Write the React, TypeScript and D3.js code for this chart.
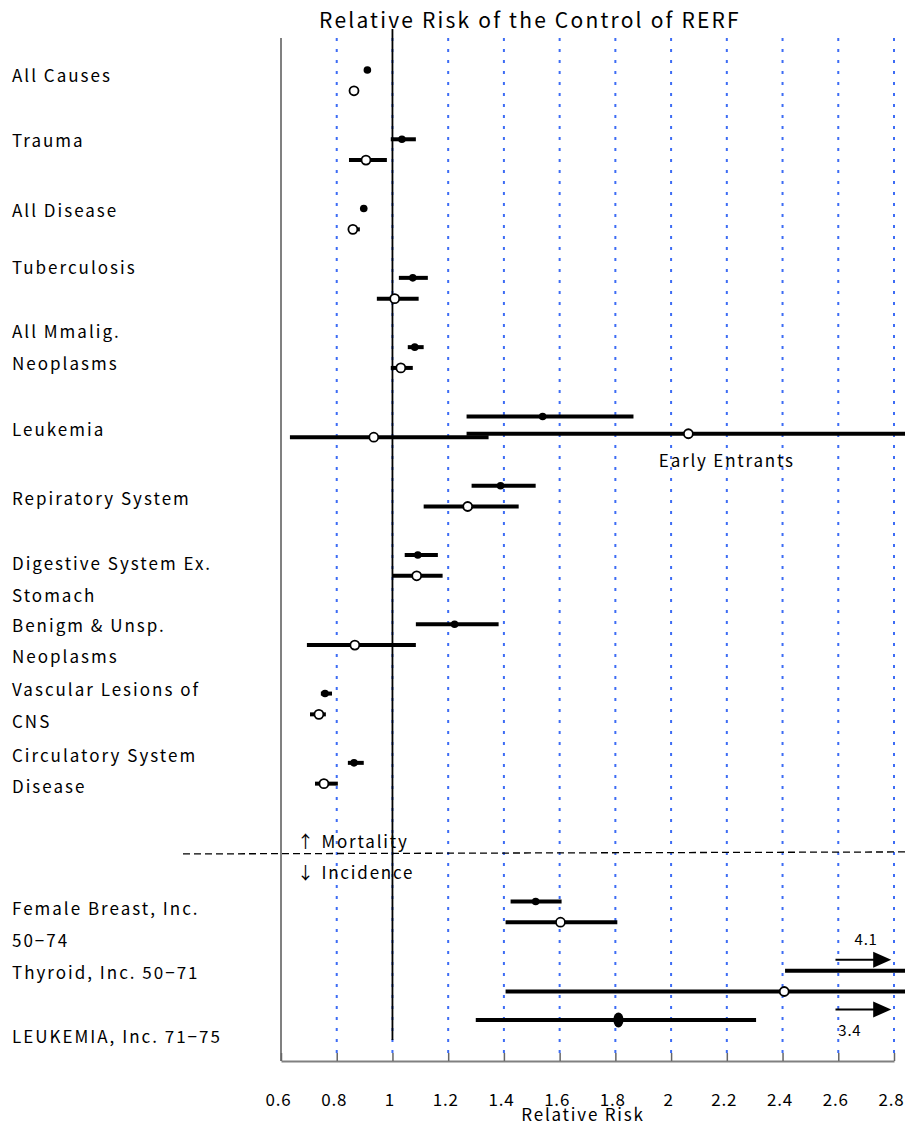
import React, { useEffect, useRef } from 'react'
import * as d3 from 'd3'

interface RiskPoint {
  row: number
  est: number
  lo: number
  hi: number
}

// category labels (left column), one entry per category, wrapped lines
const categoryLabels = [
  ['All Causes'],
  ['Trauma'],
  ['All Disease'],
  ['Tuberculosis'],
  ['All Mmalig.', 'Neoplasms'],
  ['Leukemia'],
  ['Repiratory System'],
  ['Digestive System Ex.', 'Stomach'],
  ['Benigm & Unsp.', 'Neoplasms'],
  ['Vascular Lesions of', 'CNS'],
  ['Circulatory System', 'Disease'],
  ['Female Breast, Inc.', '50−74'],
  ['Thyroid, Inc. 50−71'],
  ['LEUKEMIA, Inc. 71−75'],
]
// where each label block sits, in row units
const labelRows = [0.09, 1.02, 2.03, 2.86, 4.01, 5.19, 6.19, 7.36, 8.25, 9.18, 10.12, 12.34, 13.03, 13.95]

// filled dots
const filledSeries: RiskPoint[] = [
  { row: 0, est: 0.91, lo: 0.9, hi: 0.92 },
  { row: 1, est: 1.034, lo: 0.994, hi: 1.084 },
  { row: 2, est: 0.897, lo: 0.89, hi: 0.905 },
  { row: 3, est: 1.073, lo: 1.023, hi: 1.127 },
  { row: 4, est: 1.08, lo: 1.055, hi: 1.112 },
  { row: 5, est: 1.539, lo: 1.266, hi: 1.865 },
  { row: 6, est: 1.388, lo: 1.284, hi: 1.514 },
  { row: 7, est: 1.091, lo: 1.044, hi: 1.163 },
  { row: 8, est: 1.223, lo: 1.084, hi: 1.381 },
  { row: 9, est: 0.758, lo: 0.743, hi: 0.783 },
  { row: 10, est: 0.862, lo: 0.84, hi: 0.897 },
  { row: 12, est: 1.514, lo: 1.424, hi: 1.607 },
  { row: 13, est: 4.1, lo: 2.409, hi: 5.0 },
]

// open circles
const openSeries: RiskPoint[] = [
  { row: 0, est: 0.862, lo: 0.85, hi: 0.875 },
  { row: 1, est: 0.905, lo: 0.844, hi: 0.98 },
  { row: 2, est: 0.858, lo: 0.85, hi: 0.883 },
  { row: 3, est: 1.008, lo: 0.944, hi: 1.094 },
  { row: 4, est: 1.03, lo: 0.994, hi: 1.073 },
  { row: 5, est: 0.933, lo: 0.632, hi: 1.345 },
  { row: 6, est: 1.27, lo: 1.112, hi: 1.453 },
  { row: 7, est: 1.087, lo: 1.001, hi: 1.18 },
  { row: 8, est: 0.865, lo: 0.693, hi: 1.084 },
  { row: 9, est: 0.736, lo: 0.704, hi: 0.761 },
  { row: 10, est: 0.754, lo: 0.722, hi: 0.804 },
  { row: 12, est: 1.603, lo: 1.406, hi: 1.807 },
  { row: 13, est: 2.406, lo: 1.406, hi: 5.0 },
]

const earlyEntrants: RiskPoint[] = [{ row: 5.25, est: 2.062, lo: 1.266, hi: 3.5 }]
const leukemiaIncidence: RiskPoint[] = [{ row: 13.71, est: 1.811, lo: 1.299, hi: 2.305 }]

// off-scale estimates shown with arrows
const offScale = [
  { label: '4.1', row: 12.84 },
  { label: '3.4', row: 13.56 },
]

const xTicks = [0.6, 0.8, 1, 1.2, 1.4, 1.6, 1.8, 2, 2.2, 2.4, 2.6, 2.8]
const dividerRow = 11.3

const FONT = '"Noto Sans CJK JP", "Noto Sans", sans-serif'

export default function App() {
  const svgRef = useRef<SVGSVGElement>(null)

  useEffect(() => {
    if (!svgRef.current) return
    const svg = d3.select(svgRef.current)
    svg.selectAll('*').remove()

    const width = 905
    const plotTop = 38
    const plotBottom = 1061

    const x = d3.scaleLinear().domain([0.6, 2.8]).range([281, 894])
    const y = d3.scaleLinear().domain([0, 14]).range([70, 1040])
    const openShift = 0.3

    // title
    svg
      .append('text')
      .attr('x', 530)
      .attr('y', 28)
      .attr('text-anchor', 'middle')
      .attr('font-family', FONT)
      .attr('font-size', 21)
      .attr('letter-spacing', 2.2)
      .attr('fill', '#000')
      .text('Relative Risk of the Control of RERF')

    // blue dotted gridlines
    svg
      .append('g')
      .selectAll('line')
      .data(xTicks.slice(1))
      .join('line')
      .attr('x1', (d) => x(d))
      .attr('x2', (d) => x(d))
      .attr('y1', plotTop)
      .attr('y2', plotBottom - 8)
      .attr('stroke', '#3d6cf5')
      .attr('stroke-width', 2)
      .attr('stroke-dasharray', '3,8')

    // reference line at RR = 1
    svg
      .append('line')
      .attr('x1', x(1))
      .attr('x2', x(1))
      .attr('y1', 29)
      .attr('y2', 1040)
      .attr('stroke', '#000')
      .attr('stroke-width', 1.8)

    // axes frame
    svg
      .append('line')
      .attr('x1', x(0.6))
      .attr('x2', x(0.6))
      .attr('y1', plotTop)
      .attr('y2', plotBottom)
      .attr('stroke', '#808080')
      .attr('stroke-width', 2)

    const xAxis = svg.append('g').attr('transform', `translate(0,${plotBottom})`)
    xAxis
      .call(d3.axisBottom(x).tickValues(xTicks).tickSize(-8).tickSizeOuter(0).tickFormat((d) => `${d}`))
      .selectAll('text')
      .attr('y', 33)
      .attr('dx', -3)
      .attr('font-family', FONT)
      .attr('font-size', 17)
      .attr('letter-spacing', 0.8)
      .attr('fill', '#000')
    xAxis.select('.domain').attr('stroke', '#808080').attr('stroke-width', 2)
    xAxis.selectAll('.tick line').attr('stroke', '#666').attr('stroke-width', 1.5)

    svg
      .append('text')
      .attr('x', 583)
      .attr('y', 1121)
      .attr('text-anchor', 'middle')
      .attr('font-family', FONT)
      .attr('font-size', 17)
      .attr('letter-spacing', 1.8)
      .attr('fill', '#000')
      .text('Relative Risk')

    // category labels
    const labels = svg
      .append('g')
      .attr('font-family', FONT)
      .attr('font-size', 17)
      .attr('letter-spacing', 2)
      .attr('fill', '#000')
    categoryLabels.forEach((lines, i) => {
      const cy = y(labelRows[i])
      const lineH = 31.5
      lines.forEach((line, j) => {
        labels
          .append('text')
          .attr('x', 12)
          .attr('y', cy + (j - (lines.length - 1) / 2) * lineH)
          .attr('dy', '0.36em')
          .text(line)
      })
    })

    // mortality / incidence divider
    const dy = y(dividerRow)
    svg
      .append('line')
      .attr('x1', 183)
      .attr('x2', width)
      .attr('y1', dy + 1)
      .attr('y2', dy - 1)
      .attr('stroke', '#000')
      .attr('stroke-width', 1.3)
      .attr('stroke-dasharray', '7,4')

    const noteG = svg
      .append('g')
      .attr('font-family', FONT)
      .attr('font-size', 17)
      .attr('letter-spacing', 1.8)
      .attr('fill', '#000')
    noteG.append('text').attr('x', 297).attr('y', dy - 11).attr('dy', '0.36em').text('↑ Mortality')
    noteG.append('text').attr('x', 297).attr('y', dy + 20).attr('dy', '0.36em').text('↓ Incidence')

    // error bars + markers
    const drawBars = (data: RiskPoint[], shift: number) => {
      svg
        .append('g')
        .selectAll('line')
        .data(data)
        .join('line')
        .attr('x1', (d) => x(d.lo))
        .attr('x2', (d) => x(d.hi))
        .attr('y1', (d) => y(d.row + shift))
        .attr('y2', (d) => y(d.row + shift))
        .attr('stroke', '#000')
        .attr('stroke-width', 4)
    }

    drawBars(filledSeries, 0)
    drawBars(openSeries, openShift)
    drawBars(earlyEntrants, 0)
    drawBars(leukemiaIncidence, 0)

    svg
      .append('g')
      .selectAll('circle')
      .data(filledSeries.filter((d) => d.est <= 2.8))
      .join('circle')
      .attr('cx', (d) => x(d.est))
      .attr('cy', (d) => y(d.row))
      .attr('r', 3.8)
      .attr('fill', '#000')

    svg
      .append('g')
      .selectAll('circle')
      .data([...openSeries.map((d) => ({ ...d, row: d.row + openShift })), ...earlyEntrants])
      .join('circle')
      .attr('cx', (d) => x(d.est))
      .attr('cy', (d) => y(d.row))
      .attr('r', 4.5)
      .attr('fill', '#fff')
      .attr('stroke', '#000')
      .attr('stroke-width', 1.8)

    svg
      .append('g')
      .selectAll('ellipse')
      .data(leukemiaIncidence)
      .join('ellipse')
      .attr('cx', (d) => x(d.est))
      .attr('cy', (d) => y(d.row))
      .attr('rx', 5)
      .attr('ry', 7.5)
      .attr('fill', '#000')

    svg
      .append('text')
      .attr('x', x(2.2))
      .attr('y', y(5.25) + 27)
      .attr('dy', '0.36em')
      .attr('text-anchor', 'middle')
      .attr('font-family', FONT)
      .attr('font-size', 17)
      .attr('letter-spacing', 1.8)
      .attr('fill', '#000')
      .text('Early Entrants')

    // arrows for off-scale values
    offScale.forEach((a, i) => {
      const ay = y(a.row)
      const x0 = x(2.59)
      const x1 = x(2.79)
      svg
        .append('line')
        .attr('x1', x0)
        .attr('x2', x1 - 16)
        .attr('y1', ay)
        .attr('y2', ay)
        .attr('stroke', '#000')
        .attr('stroke-width', 2)
      svg
        .append('path')
        .attr('d', `M${x1 - 18},${ay - 8}L${x1},${ay}L${x1 - 18},${ay + 8}Z`)
        .attr('fill', '#000')
      svg
        .append('text')
        .attr('x', i === 0 ? x(2.7) : x(2.6))
        .attr('y', i === 0 ? ay - 20 : ay + 21)
        .attr('dy', '0.36em')
        .attr('text-anchor', i === 0 ? 'middle' : 'start')
        .attr('font-family', FONT)
        .attr('font-size', 15)
        .attr('letter-spacing', 0.8)
        .attr('fill', '#000')
        .text(a.label)
    })
  }, [])

  return (
    <svg
      ref={svgRef}
      width={905}
      height={1126}
      style={{ position: 'absolute', left: 0, top: 0, background: '#fff' }}
    />
  )
}
